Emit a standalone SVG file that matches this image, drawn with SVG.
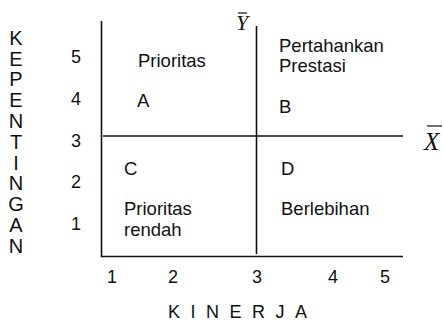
<svg xmlns="http://www.w3.org/2000/svg" width="444" height="321" viewBox="0 0 444 321">
<style>
.t{font-family:"Liberation Sans",Arial,sans-serif;font-size:18.5px;fill:#111}
.n{font-family:"Liberation Sans",Arial,sans-serif;font-size:18px;fill:#111}
.v{font-family:"Liberation Sans",Arial,sans-serif;font-size:20px;fill:#111}
.m{font-family:"Liberation Serif","Times New Roman",serif;font-style:italic;fill:#111}
.ax{stroke:#111;stroke-width:1.6;fill:none}
.bar{stroke:#111;stroke-width:1.2}
</style>
<rect width="444" height="321" fill="#fff"/>
<g id="connectors">
<path class="ax" d="M101.5,21 V256.5 H403"/>
<path class="ax" d="M103,136 H403"/>
<path class="ax" d="M256.5,26 V254"/>
</g>
<g id="ylabel">
<text class="v" text-anchor="middle">
<tspan x="16" y="45">K</tspan><tspan x="16" y="66">E</tspan><tspan x="16" y="86">P</tspan><tspan x="16" y="107">E</tspan><tspan x="16" y="128">N</tspan><tspan x="16" y="149">T</tspan><tspan x="16" y="170">I</tspan><tspan x="16" y="190">N</tspan><tspan x="16" y="211">G</tspan><tspan x="16" y="232">A</tspan><tspan x="16" y="253">N</tspan>
</text>
</g>
<g id="yticks">
<text class="n" x="71" y="63">5</text>
<text class="n" x="71" y="105">4</text>
<text class="n" x="71" y="147">3</text>
<text class="n" x="71" y="188">2</text>
<text class="n" x="71" y="230">1</text>
</g>
<g id="xticks">
<text class="n" x="107" y="283">1</text>
<text class="n" x="168" y="283">2</text>
<text class="n" x="252" y="283">3</text>
<text class="n" x="328" y="283">4</text>
<text class="n" x="380" y="283">5</text>
</g>
<g id="xlabel">
<text class="n" x="168" y="318" letter-spacing="10.5">KINERJA</text>
</g>
<g id="ybar">
<line class="bar" x1="238" y1="13" x2="247" y2="13"/>
<text class="m" x="236" y="30" font-size="22">Y</text>
</g>
<g id="xbar">
<line class="bar" x1="427" y1="126" x2="442" y2="126"/>
<text class="m" x="424" y="150" font-size="25">X</text>
</g>
<g id="qA">
<text class="t" x="138" y="67">Prioritas</text>
<text class="t" x="137" y="107">A</text>
</g>
<g id="qB">
<text class="t" x="279" y="52">Pertahankan</text>
<text class="t" x="279" y="72">Prestasi</text>
<text class="t" x="279" y="113">B</text>
</g>
<g id="qC">
<text class="t" x="124" y="175">C</text>
<text class="t" x="124" y="215">Prioritas</text>
<text class="t" x="124" y="236">rendah</text>
</g>
<g id="qD">
<text class="t" x="281" y="175">D</text>
<text class="t" x="281" y="215">Berlebihan</text>
</g>
</svg>
